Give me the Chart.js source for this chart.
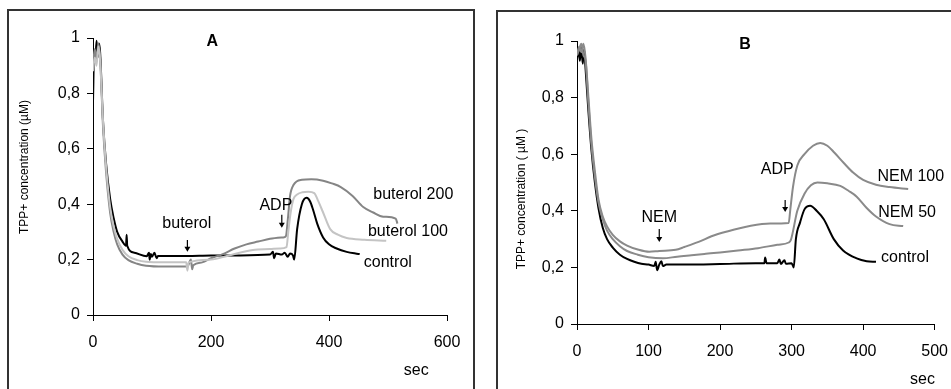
<!DOCTYPE html>
<html>
<head>
<meta charset="utf-8">
<script src="https://cdn.jsdelivr.net/npm/chart.js@4/dist/chart.umd.min.js"></script>
<style>
  body { margin: 0; background: #fff; width: 951px; height: 389px; overflow: hidden; position: relative; }
  .frame { position: absolute; border: 2px solid #333; box-sizing: border-box; }
  #frameA { left: 7px; top: 9px; width: 468px; height: 400px; }
  #frameB { left: 496px; top: 10px; width: 480px; height: 400px; }
  .box { position: absolute; top: 0; height: 389px; }
  #boxA { left: 0; width: 475px; }
  #boxB { left: 480px; width: 480px; }
</style>
</head>
<body>
<div class="frame" id="frameA"></div>
<div class="frame" id="frameB"></div>
<div class="box" id="boxA"><canvas id="chartA"></canvas></div>
<div class="box" id="boxB"><canvas id="chartB"></canvas></div>
<script>
const FONT = '"Liberation Sans", Arial, sans-serif';

// Panel A - time (sec) and TPP+ concentration (µM)
const ctrlA_t = [0, 2, 4, 6, 8, 10, 12, 17, 22, 29, 35, 41, 50, 56, 57, 58, 70, 91, 95, 96, 98, 100, 104, 108, 110, 130, 160, 200, 250, 300, 305, 307, 310, 320, 325, 330, 334, 339, 341, 346, 354, 362, 368, 373, 380, 390, 400, 413, 430, 445, 452];
const ctrlA_c = [0.77, 0.95, 0.92, 0.99, 0.93, 0.98, 0.95, 0.7, 0.55, 0.42, 0.35, 0.3, 0.265, 0.25, 0.29, 0.25, 0.225, 0.212, 0.225, 0.2, 0.22, 0.21, 0.225, 0.205, 0.213, 0.213, 0.213, 0.215, 0.215, 0.218, 0.228, 0.205, 0.222, 0.218, 0.225, 0.21, 0.222, 0.215, 0.2, 0.31, 0.4, 0.423, 0.41, 0.38, 0.33, 0.28, 0.255, 0.24, 0.228, 0.222, 0.22];

const but100A_t = [0, 3, 6, 9, 12, 17, 22, 29, 35, 41, 50, 60, 75, 90, 120, 158, 160, 162, 200, 230, 271, 300, 317, 328, 331, 335, 340, 346, 355, 365, 375, 382, 390, 402, 415, 430, 460, 497];
const but100A_c = [0.88, 0.93, 0.9, 0.97, 0.92, 0.7, 0.54, 0.39, 0.32, 0.275, 0.235, 0.212, 0.198, 0.192, 0.19, 0.19, 0.16, 0.19, 0.2, 0.215, 0.235, 0.238, 0.24, 0.245, 0.3, 0.37, 0.42, 0.435, 0.443, 0.445, 0.44, 0.41, 0.37, 0.31, 0.29, 0.278, 0.272, 0.268];

const but200A_t = [0, 3, 6, 9, 12, 17, 22, 29, 35, 41, 50, 60, 75, 90, 120, 160, 166, 168, 170, 185, 200, 220, 240, 260, 280, 300, 322, 327, 330, 334, 340, 354, 370, 390, 405, 420, 440, 458, 475, 492, 513, 516];
const but200A_c = [0.9, 0.96, 0.92, 0.98, 0.93, 0.68, 0.52, 0.37, 0.3, 0.255, 0.218, 0.198, 0.185, 0.178, 0.175, 0.175, 0.2, 0.165, 0.18, 0.19, 0.205, 0.22, 0.24, 0.255, 0.265, 0.275, 0.28, 0.285, 0.34, 0.43, 0.47, 0.488, 0.49, 0.485, 0.475, 0.462, 0.43, 0.39, 0.37, 0.355, 0.348, 0.33];

// Panel B
const ctrlB_t = [0, 2, 4, 6, 8, 10, 12, 16, 20, 25, 30, 36, 42, 50, 60, 70, 80, 90, 100, 108, 110, 112, 115, 118, 120, 125, 150, 200, 250, 262, 263, 265, 280, 283, 285, 290, 292, 300, 303, 306, 312, 318, 326, 335, 345, 359, 372, 391, 405, 418];
const ctrlB_c = [0.94, 0.97, 0.93, 0.98, 0.92, 0.97, 0.9, 0.75, 0.62, 0.5, 0.41, 0.34, 0.3, 0.27, 0.245, 0.23, 0.22, 0.213, 0.21, 0.205, 0.22, 0.19, 0.21, 0.222, 0.205, 0.21, 0.21, 0.212, 0.215, 0.215, 0.235, 0.215, 0.215, 0.228, 0.212, 0.225, 0.213, 0.215, 0.2, 0.3, 0.36, 0.405, 0.418, 0.4, 0.37, 0.3, 0.26, 0.232, 0.222, 0.22];

const nem50B_t = [0, 3, 6, 9, 12, 16, 20, 25, 30, 36, 42, 50, 60, 70, 85, 100, 120, 140, 160, 180, 200, 225, 253, 280, 296, 299, 308, 318, 327, 336, 350, 368, 380, 391, 405, 418, 437, 456];
const nem50B_c = [0.95, 0.97, 0.99, 0.95, 0.93, 0.78, 0.64, 0.52, 0.43, 0.37, 0.33, 0.3, 0.275, 0.258, 0.245, 0.236, 0.232, 0.238, 0.243, 0.248, 0.253, 0.26, 0.268, 0.28, 0.288, 0.297, 0.4, 0.46, 0.49, 0.5, 0.497, 0.488, 0.47, 0.45, 0.41, 0.38, 0.353, 0.346];

const nem100B_t = [0, 3, 6, 9, 12, 16, 20, 25, 30, 36, 42, 50, 60, 70, 85, 101, 115, 138, 150, 170, 188, 210, 243, 270, 296, 298, 302, 308, 318, 330, 340, 350, 360, 373, 386, 400, 418, 437, 463];
const nem100B_c = [0.95, 0.98, 0.96, 0.99, 0.94, 0.8, 0.66, 0.54, 0.44, 0.38, 0.345, 0.315, 0.292, 0.277, 0.263, 0.255, 0.258, 0.262, 0.272, 0.29, 0.31, 0.327, 0.347, 0.355, 0.357, 0.4, 0.485, 0.56, 0.6, 0.63, 0.64, 0.63, 0.605, 0.569, 0.535, 0.509, 0.492, 0.484, 0.477];

const yTicks = [0, 0.2, 0.4, 0.6, 0.8, 1];

function toPoints(t, c) {
    return t.map((v, i) => ({ x: v, y: c[i] }));
}

function series(label, t, c, color) {
    return {
        label, data: toPoints(t, c), borderColor: color, backgroundColor: color,
        borderWidth: 2, pointRadius: 0, cubicInterpolationMode: 'monotone', fill: false
    };
}

function drawArrow(ctx, x, y1, y2) {
    ctx.save();
    ctx.strokeStyle = '#000';
    ctx.fillStyle = '#000';
    ctx.lineWidth = 1.2;
    ctx.beginPath();
    ctx.moveTo(x, y1);
    ctx.lineTo(x, y2 - 3);
    ctx.stroke();
    ctx.beginPath();
    ctx.moveTo(x - 3, y2 - 5);
    ctx.lineTo(x + 3, y2 - 5);
    ctx.lineTo(x, y2);
    ctx.closePath();
    ctx.fill();
    ctx.restore();
}

// annotations: [text, xValue, yValue, align, bold]
const notesA = [['A', 202, 0.987, 'center', true], ['buterol', 159, 0.33, 'center'], ['ADP', 310, 0.394, 'center'],
                ['buterol 200', 475, 0.434, 'left'], ['buterol 100', 466, 0.30, 'left'], ['control', 459, 0.19, 'left']];
const arrowsA = [[160, 0.271, 0.228], [320, 0.362, 0.315]];
const notesB = [['B', 235, 0.986, 'center', true], ['NEM', 115, 0.375, 'center'], ['ADP', 280, 0.544, 'center'],
                ['NEM 100', 420, 0.52, 'left'], ['NEM 50', 421, 0.392, 'left'], ['control', 425, 0.233, 'left']];
const arrowsB = [[115, 0.336, 0.29], [291, 0.438, 0.396]];

function notesPlugin(notes, arrows, yTitle, titlePos, secX) {
    return {
        id: 'notes',
        afterDraw(chart) {
            const { ctx, scales: { x, y } } = chart;
            ctx.save();
            ctx.fillStyle = '#000';
            ctx.textBaseline = 'middle';
            notes.forEach(n => {
                ctx.font = (n[4] ? 'bold 16px ' : '16px ') + FONT;
                ctx.textAlign = n[3];
                ctx.fillText(n[0], x.getPixelForValue(n[1]), y.getPixelForValue(n[2]));
            });
            arrows.forEach(a => drawArrow(ctx, x.getPixelForValue(a[0]), y.getPixelForValue(a[1]), y.getPixelForValue(a[2])));
            ctx.font = '16px ' + FONT;
            ctx.textAlign = 'center';
            ctx.fillText('sec', x.getPixelForValue(secX), y.bottom + 56);
            ctx.font = '12px ' + FONT;
            ctx.translate(titlePos[0], titlePos[1]);
            ctx.rotate(-Math.PI / 2);
            ctx.fillText(yTitle, 0, 0);
            ctx.restore();
        }
    };
}

function axisOpts(min, max, step, fitSize, isY) {
    return {
        type: 'linear', min, max,
        grid: { drawOnChartArea: false, drawTicks: true, tickLength: 6, color: '#000', lineWidth: 1 },
        border: { color: '#000', width: 1 },
        ticks: {
            stepSize: step, color: '#000', font: { family: FONT, size: 16 }, padding: isY ? 7 : 12,
            maxRotation: 0, autoSkip: false,
            callback: v => isY ? (yTicks.includes(Math.round(v * 10) / 10) ? String(v).replace('.', ',') : '') : v
        },
        afterFit: s => { if (isY) s.width = fitSize; else s.height = fitSize; }
    };
}

function makeChart(id, datasets, xMax, xStep, yWidth, xHeight, padding, plugin) {
    return new Chart(document.getElementById(id), {
        type: 'line',
        data: { datasets },
        options: {
            responsive: true, maintainAspectRatio: false, animation: false,
            layout: { padding },
            plugins: { legend: { display: false }, tooltip: { enabled: false } },
            scales: { x: axisOpts(0, xMax, xStep, xHeight, false), y: axisOpts(0, 1, 0.2, yWidth, true) }
        },
        plugins: [plugin]
    });
}

makeChart('chartA', [
    series('buterol 100', but100A_t, but100A_c, '#c4c4c4'),
    series('buterol 200', but200A_t, but200A_c, '#858585'),
    series('control', ctrlA_t, ctrlA_c, '#000')
], 600, 200, 93, 74, { left: 0, top: 38, right: 28, bottom: 0 },
   notesPlugin(notesA, arrowsA, 'TPP+ concentration (µM)', [25, 167], 548));

makeChart('chartB', [
    series('NEM 50', nem50B_t, nem50B_c, '#8a8a8a'),
    series('NEM 100', nem100B_t, nem100B_c, '#8a8a8a'),
    series('control', ctrlB_t, ctrlB_c, '#000')
], 500, 100, 97, 65, { left: 0, top: 41, right: 21, bottom: 0 },
   notesPlugin(notesB, arrowsB, 'TPP+ concentration ( µM )', [42, 199], 483));
</script>
</body>
</html>
